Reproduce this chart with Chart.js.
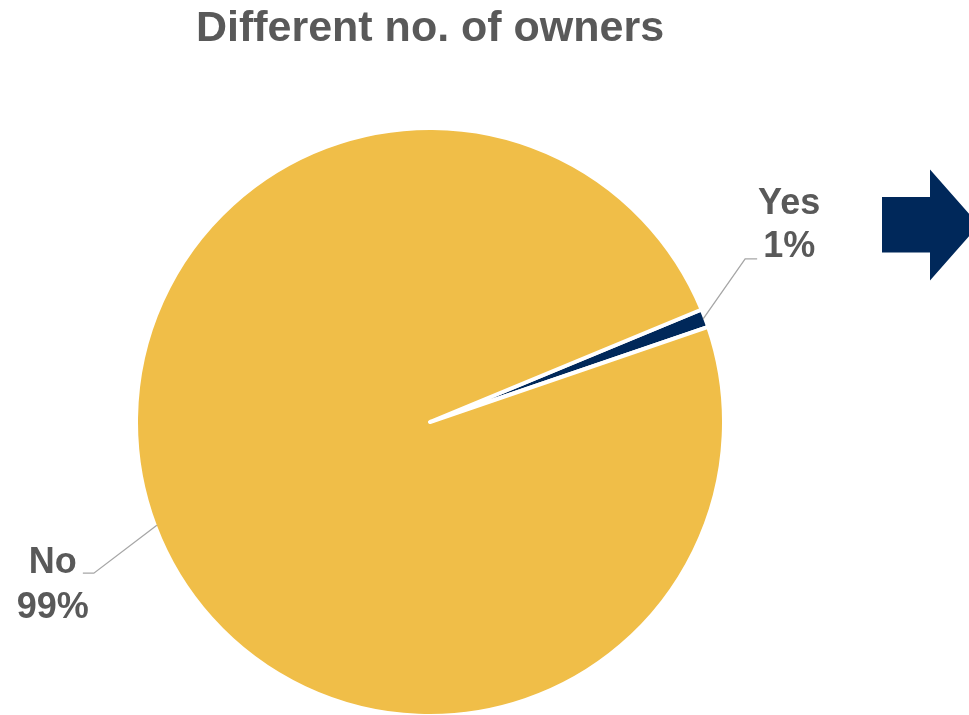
<!DOCTYPE html>
<html>
<head>
<meta charset="utf-8">
<script src="https://cdn.jsdelivr.net/npm/chart.js@4/dist/chart.umd.min.js"></script>
<style>
  html, body { margin: 0; padding: 0; background: #ffffff; overflow: hidden; }
  #wrap { width: 969px; height: 718px; position: relative; }
</style>
</head>
<body>
<div id="wrap"><canvas id="pie"></canvas></div>
<script>
// Survey answers: does the property have a different number of owners?
const categories = ['Yes', 'No'];
const shares = [1, 99];            // percent of responses
const sliceColors = ['#00285A', '#F0BE48'];
const chartTitle = 'Different no. of owners';

const FONT = '"Liberation Sans", Arial, Helvetica, sans-serif';
const TEXT_GREY = '#595959';

// Callout layout for each slice: elbow offset from the rim point,
// horizontal tail length, and text placement relative to the tail end.
const callouts = {
  Yes: { elbow: [42, -60], tail: 12, text: [32, -45], lineGap: 43 },
  No:  { elbow: [-63, 48], tail: -11, text: [-30, 0], lineGap: 45 }
};

const calloutPlugin = {
  id: 'callouts',
  afterDatasetsDraw(chart) {
    const ctx = chart.ctx;
    const meta = chart.getDatasetMeta(0);
    const data = chart.data.datasets[0].data;
    const total = data.reduce((a, b) => a + b, 0);
    meta.data.forEach((arc, i) => {
      const name = chart.data.labels[i];
      const c = callouts[name];
      const p = arc.getProps(['x', 'y', 'startAngle', 'endAngle', 'outerRadius'], true);
      const mid = (p.startAngle + p.endAngle) / 2;
      const r = p.outerRadius - 2;
      const x0 = p.x + Math.cos(mid) * r;
      const y0 = p.y + Math.sin(mid) * r;
      const x1 = x0 + c.elbow[0];
      const y1 = y0 + c.elbow[1];
      const x2 = x1 + c.tail;
      ctx.save();
      ctx.strokeStyle = '#A6A6A6';
      ctx.lineWidth = 1.3;
      ctx.beginPath();
      ctx.moveTo(x0, y0);
      ctx.lineTo(x1, y1);
      ctx.lineTo(x2, y1);
      ctx.stroke();
      ctx.fillStyle = TEXT_GREY;
      ctx.font = 'bold 36px ' + FONT;
      ctx.textAlign = 'center';
      ctx.textBaseline = 'alphabetic';
      const tx = x2 + c.text[0];
      const ty = y1 + c.text[1];
      const pct = Math.round(data[i] / total * 100) + '%';
      ctx.fillText(name, tx, ty);
      ctx.fillText(pct, tx, ty + c.lineGap);
      ctx.restore();
    });
  }
};

// Navy arrow pointing to the next panel
const arrowPlugin = {
  id: 'arrow',
  afterDraw(chart) {
    const ctx = chart.ctx;
    ctx.save();
    ctx.fillStyle = '#00285A';
    ctx.beginPath();
    ctx.moveTo(882, 197);
    ctx.lineTo(930, 197);
    ctx.lineTo(930, 169.5);
    ctx.lineTo(979, 225);
    ctx.lineTo(930, 280.5);
    ctx.lineTo(930, 252.5);
    ctx.lineTo(882, 252.5);
    ctx.closePath();
    ctx.fill();
    ctx.restore();
  }
};

new Chart(document.getElementById('pie'), {
  type: 'pie',
  data: {
    labels: categories,
    datasets: [{
      data: shares,
      backgroundColor: sliceColors,
      borderColor: '#ffffff',
      borderWidth: 4,
      borderJoinStyle: 'round'
    }]
  },
  options: {
    responsive: true,
    maintainAspectRatio: false,
    animation: false,
    rotation: 67.5,
    layout: { padding: { left: 134, right: 243, top: 0, bottom: 0 } },
    plugins: {
      legend: { display: false },
      tooltip: { enabled: false },
      title: {
        display: true,
        text: chartTitle,
        color: TEXT_GREY,
        font: { family: FONT, size: 43, weight: 'bold', lineHeight: 1.2 },
        padding: { top: 3, bottom: 71.4 }
      }
    }
  },
  plugins: [calloutPlugin, arrowPlugin]
});
</script>
</body>
</html>
